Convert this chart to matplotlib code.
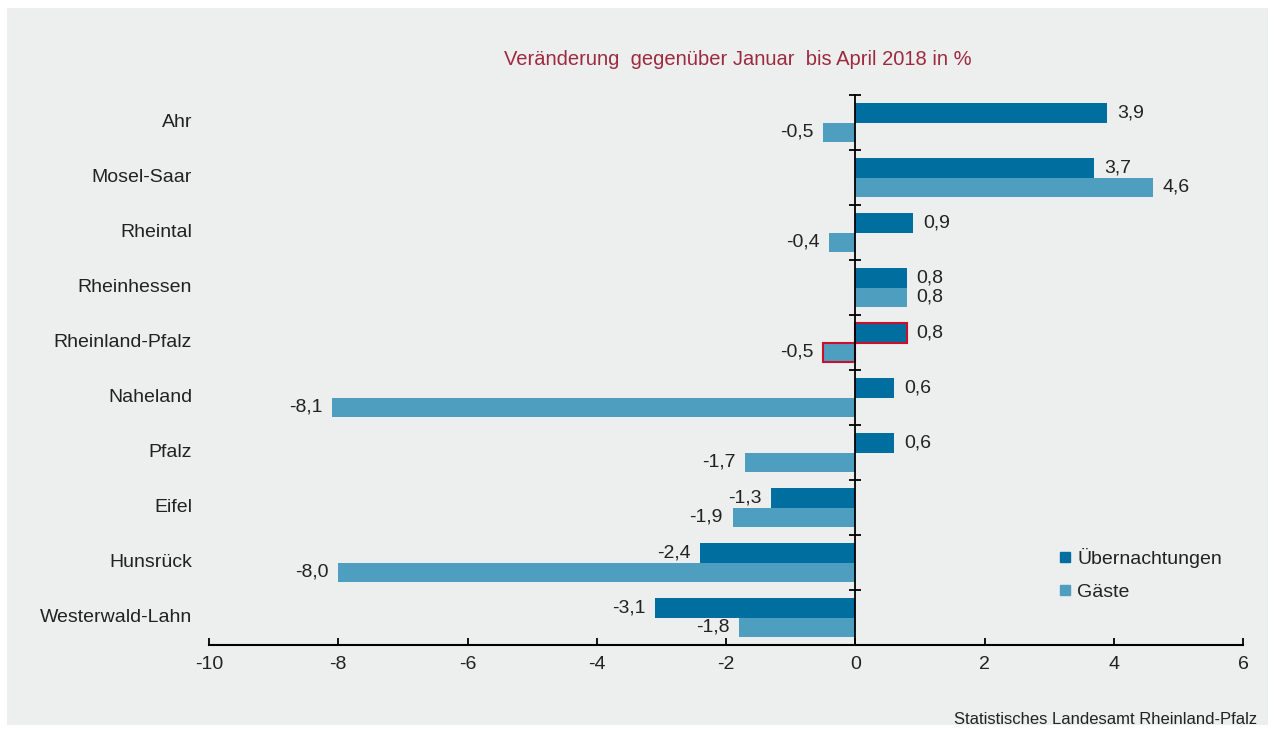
import numpy as np
import matplotlib.pyplot as plt
from matplotlib.patches import Rectangle
from matplotlib.lines import Line2D

plt.rcParams['font.family'] = ['Liberation Sans', 'DejaVu Sans']

# Data
regionen = ['Ahr', 'Mosel-Saar', 'Rheintal', 'Rheinhessen', 'Rheinland-Pfalz',
            'Naheland', 'Pfalz', 'Eifel', 'Hunsrück', 'Westerwald-Lahn']
uebernachtungen = [3.9, 3.7, 0.9, 0.8, 0.8, 0.6, 0.6, -1.3, -2.4, -3.1]
gaeste = [-0.5, 4.6, -0.4, 0.8, -0.5, -8.1, -1.7, -1.9, -8.0, -1.8]
xticks = [-10, -8, -6, -4, -2, 0, 2, 4, 6]
highlight = 'Rheinland-Pfalz'

DARK = '#006fa0'
LIGHT = '#4e9ec0'
RED = '#c8102e'
TXT = '#222222'
FS = 14

fig = plt.figure(figsize=(12.74, 7.31), dpi=100)
fig.patch.set_facecolor('white')
fig.patches.append(Rectangle((0.0055, 0.0082), 0.99, 0.981, transform=fig.transFigure,
                             facecolor='#edeeee', edgecolor='none', zorder=-1))

ax = fig.add_axes([0.1641, 0.1176, 0.8116, 0.7524])
ax.set_facecolor('none')
ax.set_zorder(1)

y = np.arange(len(regionen))
h = 0.36

edges = [RED if r == highlight else 'none' for r in regionen]
lws = [1.5 if r == highlight else 0 for r in regionen]

b1 = ax.barh(y - h / 2, uebernachtungen, height=h, color=DARK,
             edgecolor=edges, linewidth=lws, zorder=2)
b2 = ax.barh(y + h / 2, gaeste, height=h, color=LIGHT,
             edgecolor=edges, linewidth=lws, zorder=2)

# value labels
for bars, vals in ((b1, uebernachtungen), (b2, gaeste)):
    for bar, v in zip(bars, vals):
        yc = bar.get_y() + bar.get_height() / 2
        off = 7 if v >= 0 else -7
        ax.annotate(f'{v:.1f}'.replace('.', ','), (v, yc),
                    xytext=(off, 0), textcoords='offset points',
                    ha='left' if v >= 0 else 'right', va='center',
                    fontsize=FS, color=TXT)

ax.set_xlim(-10, 6)
ax.set_ylim(len(regionen) - 0.5, -0.5)

# y axis line at zero with boundary ticks
ax.spines['left'].set_position(('data', 0))
ax.spines['left'].set_linewidth(1.3)
ax.spines['left'].set_zorder(3)
ax.set_yticks(np.arange(-0.5, len(regionen)))
ax.set_yticklabels([])
ax.tick_params(axis='y', direction='inout', length=8, width=1.3)

for yi, name in zip(y, regionen):
    ax.text(-0.0165, yi, name, transform=ax.get_yaxis_transform(),
            ha='right', va='center', fontsize=FS, color=TXT)

ax.spines['top'].set_visible(False)
ax.spines['right'].set_visible(False)
ax.spines['bottom'].set_linewidth(1.5)
ax.set_xticks(xticks)
ax.set_xticklabels([str(t) for t in xticks], fontsize=FS, color=TXT)
ax.tick_params(axis='x', direction='in', length=5, width=1.3, pad=8)

fig.text(0.579, 0.918, 'Veränderung  gegenüber Januar  bis April 2018 in %',
         ha='center', va='center', fontsize=14.5, color='#9e2a3f')

fig.text(0.987, 0.005, 'Statistisches Landesamt Rheinland-Pfalz',
         ha='right', va='bottom', fontsize=12, color=TXT)

handles = [Line2D([], [], marker='s', linestyle='none', color=DARK, markersize=7),
           Line2D([], [], marker='s', linestyle='none', color=LIGHT, markersize=7)]
ax.legend(handles, ['Übernachtungen', 'Gäste'], loc='upper left',
          bbox_to_anchor=(0.805, 0.208), frameon=False, fontsize=FS,
          handlelength=0.6, handletextpad=0.35, labelspacing=0.8,
          labelcolor=TXT)

fig.savefig('out.png', dpi=100)
